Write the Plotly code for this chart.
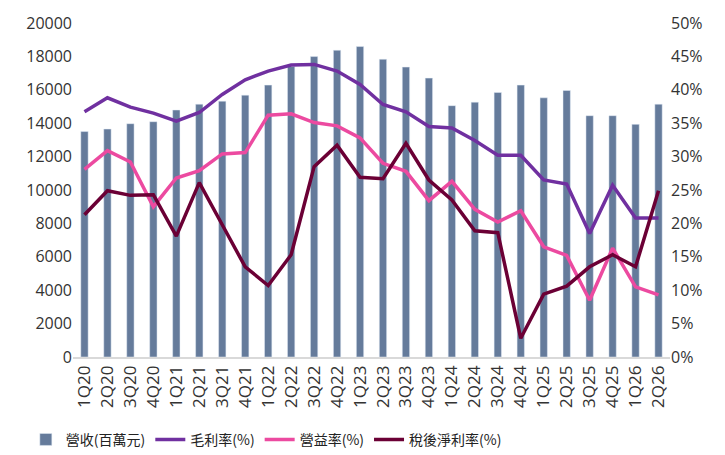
import plotly.graph_objects as go

quarters = ['1Q20', '2Q20', '3Q20', '4Q20', '1Q21', '2Q21', '3Q21', '4Q21',
            '1Q22', '2Q22', '3Q22', '4Q22', '1Q23', '2Q23', '3Q23', '4Q23',
            '1Q24', '2Q24', '3Q24', '4Q24', '1Q25', '2Q25', '3Q25', '4Q25',
            '1Q26', '2Q26']
# 營收 (百萬元)
revenue = [13500, 13650, 13970, 14090, 14790, 15140, 15320, 15680,
           16280, 17400, 17990, 18370, 18590, 17830, 17360, 16700,
           15050, 15260, 15840, 16280, 15520, 15960, 14450, 14450,
           13930, 15140]
# 毛利率 (%)
gross_margin = [36.7, 38.8, 37.4, 36.5, 35.3, 36.6, 39.3, 41.5,
                42.8, 43.7, 43.8, 42.8, 40.8, 37.8, 36.7, 34.5,
                34.3, 32.4, 30.2, 30.2, 26.5, 25.9, 18.5, 25.7,
                20.8, 20.8]
# 營益率 (%)
op_margin = [28.1, 30.9, 29.2, 22.5, 26.8, 27.9, 30.4, 30.6,
             36.2, 36.4, 35.1, 34.6, 32.8, 29.0, 27.8, 23.4,
             26.3, 22.1, 20.2, 21.9, 16.5, 15.2, 8.5, 16.3,
             10.5, 9.3]
# 稅後淨利率 (%)
net_margin = [21.3, 24.9, 24.2, 24.3, 18.1, 26.1, 19.8, 13.5,
              10.7, 15.3, 28.5, 31.7, 26.9, 26.7, 32.0, 26.5,
              23.5, 18.9, 18.6, 2.8, 9.4, 10.6, 13.5, 15.3,
              13.5, 24.9]

fig = go.Figure()
fig.add_trace(go.Bar(x=quarters, y=revenue, name='營收(百萬元)',
                     marker=dict(color='#657B9B')))
fig.add_trace(go.Scatter(x=quarters, y=gross_margin, name='毛利率(%)', yaxis='y2',
                         mode='lines', line=dict(color='#7030A0', width=3.5)))
fig.add_trace(go.Scatter(x=quarters, y=op_margin, name='營益率(%)', yaxis='y2',
                         mode='lines', line=dict(color='#EC4AA0', width=3.5)))
fig.add_trace(go.Scatter(x=quarters, y=net_margin, name='稅後淨利率(%)', yaxis='y2',
                         mode='lines', line=dict(color='#6B0035', width=3.5)))

# page shows the figure with an 8px body margin, so size it a bit smaller
fig.update_layout(
    width=717, height=447,
    margin=dict(l=65, r=55, t=15, b=98, autoexpand=False),
    paper_bgcolor='white', plot_bgcolor='white',
    font=dict(family='Open Sans, Noto Sans CJK TC', size=16, color='#333333'),
    bargap=0.68,
    showlegend=True,
    legend=dict(orientation='h', x=-0.079, xanchor='left', y=-0.248, yanchor='middle',
                font=dict(family='Noto Sans CJK TC', size=14, color='#222222'),
                tracegroupgap=0),
    xaxis=dict(tickangle=-90, showgrid=False, showline=True, linecolor='#D9D9D9',
               linewidth=1.5, ticks='', tickfont=dict(size=17), automargin=False),
    yaxis=dict(range=[0, 20000], dtick=2000, tickformat='d', showgrid=False,
               zeroline=False, ticks='', tickfont=dict(size=16), automargin=False),
    yaxis2=dict(range=[0, 50], dtick=5, overlaying='y', side='right',
                ticksuffix='%', showgrid=False, zeroline=False, ticks='',
                tickfont=dict(size=16), automargin=False),
)

fig.write_html("out.html")
